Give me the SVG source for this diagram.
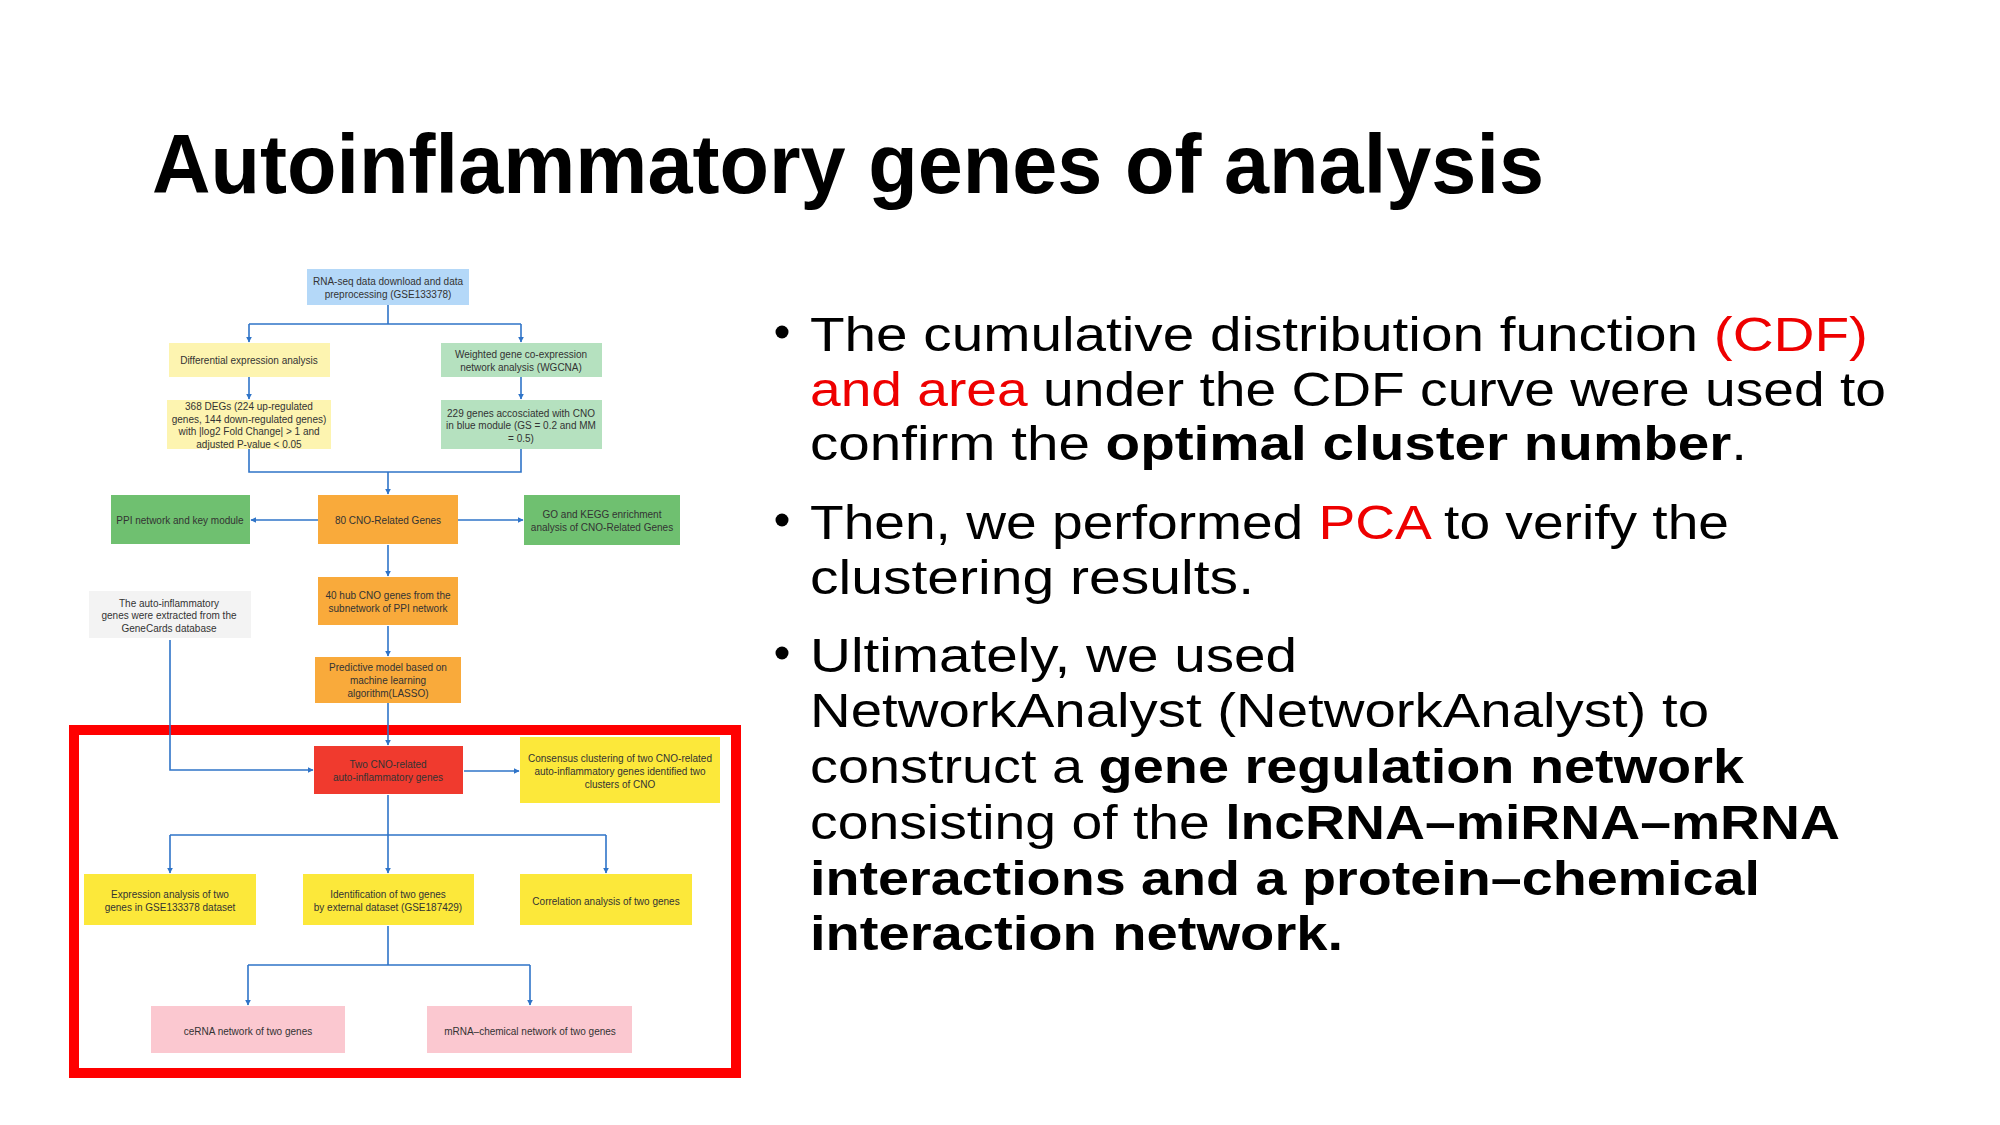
<svg xmlns="http://www.w3.org/2000/svg" width="2000" height="1125" viewBox="0 0 2000 1125">
<defs>
<marker id="ah" viewBox="0 0 10 10" refX="9" refY="5" markerWidth="6" markerHeight="6" markerUnits="userSpaceOnUse" orient="auto">
<path d="M0,0 L10,5 L0,10 z" fill="#2f74c8"/>
</marker>
</defs>
<style>
.title{font-family:"Liberation Sans",Arial,sans-serif;font-weight:bold;font-size:84px;fill:#000}
.b{font-family:"Liberation Sans",Arial,sans-serif;font-size:48px;fill:#000}
.red{fill:#ee0000}
.bold{font-weight:bold}
.n rect{stroke:none}
.n text{font-family:"Liberation Sans",Arial,sans-serif;font-size:10px;fill:#333;text-anchor:middle}
.blue{fill:#b4d8f8}
.ly{fill:#fdf4b0}
.lg{fill:#b5e1bf}
.g{fill:#6fc070}
.o{fill:#f9aa3b}
.gr{fill:#f3f3f3}
.r{fill:#f03a2e}
.y{fill:#fce83a}
.p{fill:#fbc8d0}
.c path{fill:none;stroke:#2f74c8;stroke-width:1.6}
</style>
<rect width="2000" height="1125" fill="#fff"/>
<text class="title" x="152" y="193" textLength="1392" lengthAdjust="spacingAndGlyphs">Autoinflammatory genes of analysis</text>

<g id="bullets">
<circle cx="782" cy="332" r="6.5" fill="#000"/>
<circle cx="782" cy="520" r="6.5" fill="#000"/>
<circle cx="782" cy="653" r="6.5" fill="#000"/>
<text class="b" x="810" y="351" textLength="1058" lengthAdjust="spacingAndGlyphs">The cumulative distribution function <tspan class="red">(CDF)</tspan></text>
<text class="b" x="810" y="406" textLength="1076" lengthAdjust="spacingAndGlyphs"><tspan class="red">and area</tspan> under the CDF curve were used to</text>
<text class="b" x="810" y="460" textLength="937" lengthAdjust="spacingAndGlyphs">confirm the <tspan class="bold">optimal cluster number</tspan>.</text>
<text class="b" x="810" y="539" textLength="919" lengthAdjust="spacingAndGlyphs">Then, we performed <tspan class="red">PCA</tspan> to verify the</text>
<text class="b" x="810" y="594" textLength="444" lengthAdjust="spacingAndGlyphs">clustering results.</text>
<text class="b" x="810" y="672" textLength="487" lengthAdjust="spacingAndGlyphs">Ultimately, we used</text>
<text class="b" x="810" y="727" textLength="899" lengthAdjust="spacingAndGlyphs">NetworkAnalyst (NetworkAnalyst) to</text>
<text class="b" x="810" y="783" textLength="934" lengthAdjust="spacingAndGlyphs">construct a <tspan class="bold">gene regulation network</tspan></text>
<text class="b" x="810" y="839" textLength="1030" lengthAdjust="spacingAndGlyphs">consisting of the <tspan class="bold">lncRNA–miRNA–mRNA</tspan></text>
<text class="b bold" x="810" y="895" textLength="950" lengthAdjust="spacingAndGlyphs">interactions and a protein–chemical</text>
<text class="b bold" x="810" y="950" textLength="533" lengthAdjust="spacingAndGlyphs">interaction network.</text>
</g>

<rect id="frame" x="74" y="730" width="662" height="343" fill="none" stroke="#ff0000" stroke-width="10"/>

<g class="c" id="connectors">
<path d="M388,305 V324 M249,324 H521"/>
<path d="M249,324 V342" marker-end="url(#ah)"/>
<path d="M521,324 V342" marker-end="url(#ah)"/>
<path d="M249,377 V399" marker-end="url(#ah)"/>
<path d="M521,377 V399" marker-end="url(#ah)"/>
<path d="M249,449 V472 H521 V449"/>
<path d="M388,472 V494" marker-end="url(#ah)"/>
<path d="M318,520 H251" marker-end="url(#ah)"/>
<path d="M458,520 H523" marker-end="url(#ah)"/>
<path d="M388,545 V576" marker-end="url(#ah)"/>
<path d="M388,626 V656" marker-end="url(#ah)"/>
<path d="M388,703 V745" marker-end="url(#ah)"/>
<path d="M170,640 V770 H313" marker-end="url(#ah)"/>
<path d="M464,771 H519" marker-end="url(#ah)"/>
<path d="M388,795 V835 M170,835 H606"/>
<path d="M170,835 V873" marker-end="url(#ah)"/>
<path d="M388,835 V873" marker-end="url(#ah)"/>
<path d="M606,835 V873" marker-end="url(#ah)"/>
<path d="M388,926 V965 M248,965 H530"/>
<path d="M248,965 V1005" marker-end="url(#ah)"/>
<path d="M530,965 V1005" marker-end="url(#ah)"/>
</g>

<g class="n" id="n-rnaseq"><rect class="blue" x="307" y="269" width="162" height="36"/><text x="388" y="285">RNA-seq data download and data</text><text x="388" y="298">preprocessing (GSE133378)</text></g>
<g class="n" id="n-diff"><rect class="ly" x="169" y="343" width="161" height="34"/><text x="249" y="363.5">Differential expression analysis</text></g>
<g class="n" id="n-wgcna"><rect class="lg" x="441" y="343" width="161" height="34"/><text x="521" y="358">Weighted gene co-expression</text><text x="521" y="371">network analysis (WGCNA)</text></g>
<g class="n" id="n-degs"><rect class="ly" x="167" y="400" width="164" height="49"/><text x="249" y="410">368 DEGs (224 up-regulated</text><text x="249" y="422.5">genes, 144 down-regulated genes)</text><text x="249" y="435">with |log2 Fold Change| &gt; 1 and</text><text x="249" y="447.5">adjusted P-value &lt; 0.05</text></g>
<g class="n" id="n-229"><rect class="lg" x="441" y="400" width="161" height="49"/><text x="521" y="416.5">229 genes accosciated with CNO</text><text x="521" y="429">in blue module (GS = 0.2 and MM</text><text x="521" y="441.5">= 0.5)</text></g>
<g class="n" id="n-ppi"><rect class="g" x="111" y="495" width="139" height="49"/><text x="180" y="523.5">PPI network and key module</text></g>
<g class="n" id="n-80"><rect class="o" x="318" y="495" width="140" height="49"/><text x="388" y="523.5">80 CNO-Related Genes</text></g>
<g class="n" id="n-go"><rect class="g" x="524" y="495" width="156" height="50"/><text x="602" y="517.5">GO and KEGG enrichment</text><text x="602" y="530.5">analysis of CNO-Related Genes</text></g>
<g class="n" id="n-40"><rect class="o" x="318" y="577" width="140" height="48"/><text x="388" y="598.5">40 hub CNO genes from the</text><text x="388" y="611.5">subnetwork of PPI network</text></g>
<g class="n" id="n-genecards"><rect class="gr" x="89" y="591" width="162" height="47"/><text x="169" y="606.5">The auto-inflammatory</text><text x="169" y="619">genes were extracted from the</text><text x="169" y="631.5">GeneCards database</text></g>
<g class="n" id="n-lasso"><rect class="o" x="315" y="657" width="146" height="46"/><text x="388" y="670.5">Predictive model based on</text><text x="388" y="684">machine learning</text><text x="388" y="696.5">algorithm(LASSO)</text></g>
<g class="n" id="n-two"><rect class="r" x="314" y="746" width="149" height="48"/><text x="388" y="767.5">Two CNO-related</text><text x="388" y="780.5">auto-inflammatory genes</text></g>
<g class="n" id="n-consensus"><rect class="y" x="520" y="737" width="200" height="66"/><text x="620" y="761.5">Consensus clustering of two CNO-related</text><text x="620" y="774.5">auto-inflammatory genes identified two</text><text x="620" y="787.5">clusters of CNO</text></g>
<g class="n" id="n-expr"><rect class="y" x="84" y="874" width="172" height="51"/><text x="170" y="897.5">Expression analysis of two</text><text x="170" y="910.5">genes in GSE133378 dataset</text></g>
<g class="n" id="n-ident"><rect class="y" x="303" y="874" width="171" height="51"/><text x="388" y="897.5">Identification of two genes</text><text x="388" y="910.5">by external dataset (GSE187429)</text></g>
<g class="n" id="n-corr"><rect class="y" x="520" y="874" width="172" height="51"/><text x="606" y="904.5">Correlation analysis of two genes</text></g>
<g class="n" id="n-cerna"><rect class="p" x="151" y="1006" width="194" height="47"/><text x="248" y="1034.5">ceRNA network of two genes</text></g>
<g class="n" id="n-chem"><rect class="p" x="427" y="1006" width="205" height="47"/><text x="530" y="1034.5">mRNA–chemical network of two genes</text></g>
</svg>
